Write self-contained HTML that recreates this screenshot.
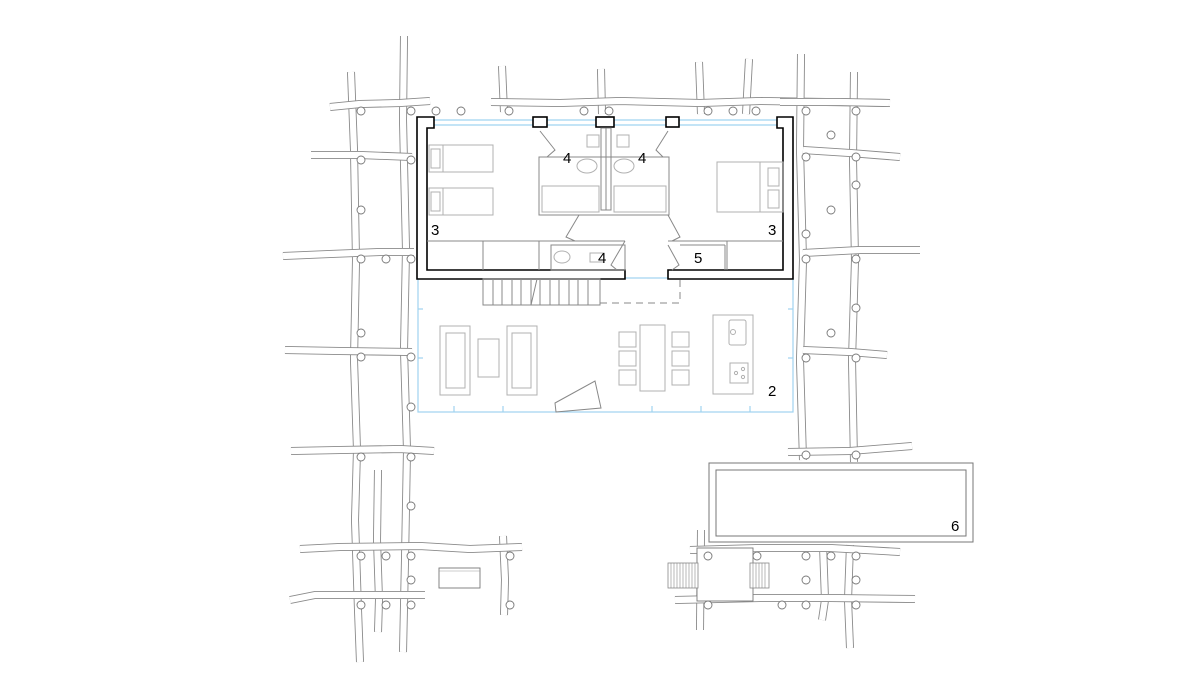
<!DOCTYPE html>
<html><head><meta charset="utf-8"><style>
html,body{margin:0;padding:0;background:#fff}
svg{display:block}
.o{fill:none;stroke:#8a8a8a;stroke-width:8;stroke-linejoin:round}
.i{fill:none;stroke:#fff;stroke-width:6.2;stroke-linejoin:round}
.c{fill:#fff;stroke:#777;stroke-width:0.9}
.g{fill:none;stroke:#b0b0b0;stroke-width:1}
.gd{fill:none;stroke:#888;stroke-width:1}
.b{fill:none;stroke:#9fd3f0;stroke-width:1.2}
.w{fill:#fff;stroke:#000;stroke-width:1.6}
text{font-family:"Liberation Sans",sans-serif;font-size:15px;fill:#000}
</style></head><body>
<svg width="1200" height="680" viewBox="0 0 1200 680" xmlns="http://www.w3.org/2000/svg">
<polyline class="o" points="351,72 354,150 356,260 354,360 357,450 355,520 358,610 360,662"/><polyline class="i" points="351,72 354,150 356,260 354,360 357,450 355,520 358,610 360,662"/>
<polyline class="o" points="404,36 403,120 406,250 404,350 407,450 405,560 403,652"/><polyline class="i" points="404,36 403,120 406,250 404,350 407,450 405,560 403,652"/>
<polyline class="o" points="378,470 377,540 379,600 378,632"/><polyline class="i" points="378,470 377,540 379,600 378,632"/>
<polyline class="o" points="503,536 505,580 504,615"/><polyline class="i" points="503,536 505,580 504,615"/>
<polyline class="o" points="330,107 360,104 400,103 430,101"/><polyline class="i" points="330,107 360,104 400,103 430,101"/>
<polyline class="o" points="311,155 360,155 412,157"/><polyline class="i" points="311,155 360,155 412,157"/>
<polyline class="o" points="283,256 330,254 380,252 414,252"/><polyline class="i" points="283,256 330,254 380,252 414,252"/>
<polyline class="o" points="285,350 340,351 412,352"/><polyline class="i" points="285,350 340,351 412,352"/>
<polyline class="o" points="291,451 340,450 400,449 434,451"/><polyline class="i" points="291,451 340,450 400,449 434,451"/>
<polyline class="o" points="300,549 340,547 420,546 470,549 522,547"/><polyline class="i" points="300,549 340,547 420,546 470,549 522,547"/>
<polyline class="o" points="290,600 315,595 380,595 425,595"/><polyline class="i" points="290,600 315,595 380,595 425,595"/>
<polyline class="o" points="502,66 504,112"/><polyline class="i" points="502,66 504,112"/>
<polyline class="o" points="601,69 602,114"/><polyline class="i" points="601,69 602,114"/>
<polyline class="o" points="699,62 701,114"/><polyline class="i" points="699,62 701,114"/>
<polyline class="o" points="749,59 746,114"/><polyline class="i" points="749,59 746,114"/>
<polyline class="o" points="491,102 560,103 620,101 700,103 760,101 890,103"/><polyline class="i" points="491,102 560,103 620,101 700,103 760,101 890,103"/>
<polyline class="o" points="801,54 800,150 803,260 800,360 803,460"/><polyline class="i" points="801,54 800,150 803,260 800,360 803,460"/>
<polyline class="o" points="854,72 853,160 855,260 852,360 854,462"/><polyline class="i" points="854,72 853,160 855,260 852,360 854,462"/>
<polyline class="o" points="780,102 840,102 889,103"/><polyline class="i" points="780,102 840,102 889,103"/>
<polyline class="o" points="803,150 850,153 900,157"/><polyline class="i" points="803,150 850,153 900,157"/>
<polyline class="o" points="803,253 860,250 920,250"/><polyline class="i" points="803,253 860,250 920,250"/>
<polyline class="o" points="803,350 850,352 887,355"/><polyline class="i" points="803,350 850,352 887,355"/>
<polyline class="o" points="788,452 850,451 912,446"/><polyline class="i" points="788,452 850,451 912,446"/>
<polyline class="o" points="823,545 825,600 822,620"/><polyline class="i" points="823,545 825,600 822,620"/>
<polyline class="o" points="850,545 848,600 850,648"/><polyline class="i" points="850,545 848,600 850,648"/>
<polyline class="o" points="701,530 700,630"/><polyline class="i" points="701,530 700,630"/>
<polyline class="o" points="690,550 760,548 830,548 900,552"/><polyline class="i" points="690,550 760,548 830,548 900,552"/>
<polyline class="o" points="675,600 760,598 830,598 915,599"/><polyline class="i" points="675,600 760,598 830,598 915,599"/>
<rect x="697" y="548" width="56" height="53" fill="#fff" stroke="#777" stroke-width="0.9"/>
<g stroke="#888" stroke-width="0.8" fill="#fff">
<rect x="668" y="563" width="30" height="25"/><rect x="750" y="563" width="19" height="25"/>
</g>
<g stroke="#888" stroke-width="0.6">
<line x1="671" y1="563" x2="671" y2="588"/><line x1="674" y1="563" x2="674" y2="588"/><line x1="677" y1="563" x2="677" y2="588"/><line x1="680" y1="563" x2="680" y2="588"/><line x1="683" y1="563" x2="683" y2="588"/><line x1="686" y1="563" x2="686" y2="588"/><line x1="689" y1="563" x2="689" y2="588"/><line x1="692" y1="563" x2="692" y2="588"/><line x1="695" y1="563" x2="695" y2="588"/>
<line x1="753" y1="563" x2="753" y2="588"/><line x1="756" y1="563" x2="756" y2="588"/><line x1="759" y1="563" x2="759" y2="588"/><line x1="762" y1="563" x2="762" y2="588"/><line x1="765" y1="563" x2="765" y2="588"/>
</g>
<rect x="709" y="463" width="264" height="79" fill="#fff" stroke="#777" stroke-width="1"/>
<rect x="716" y="470" width="250" height="66" fill="none" stroke="#777" stroke-width="1"/>
<text x="951" y="531">6</text>
<rect x="439" y="568" width="41" height="20" fill="#fff" stroke="#777" stroke-width="0.9"/>
<line x1="439" y1="571" x2="480" y2="571" stroke="#999" stroke-width="0.6"/>
<g class="c">
<circle cx="361" cy="111" r="4"/><circle cx="411" cy="111" r="4"/><circle cx="436" cy="111" r="4"/><circle cx="461" cy="111" r="4"/>
<circle cx="361" cy="160" r="4"/><circle cx="411" cy="160" r="4"/><circle cx="361" cy="210" r="4"/>
<circle cx="361" cy="259" r="4"/><circle cx="386" cy="259" r="4"/><circle cx="411" cy="259" r="4"/>
<circle cx="361" cy="333" r="4"/><circle cx="361" cy="357" r="4"/><circle cx="411" cy="357" r="4"/>
<circle cx="411" cy="407" r="4"/><circle cx="361" cy="457" r="4"/><circle cx="411" cy="457" r="4"/>
<circle cx="411" cy="506" r="4"/><circle cx="361" cy="556" r="4"/><circle cx="386" cy="556" r="4"/><circle cx="411" cy="556" r="4"/><circle cx="510" cy="556" r="4"/>
<circle cx="411" cy="580" r="4"/><circle cx="361" cy="605" r="4"/><circle cx="386" cy="605" r="4"/><circle cx="411" cy="605" r="4"/><circle cx="510" cy="605" r="4"/>
<circle cx="509" cy="111" r="4"/><circle cx="584" cy="111" r="4"/><circle cx="609" cy="111" r="4"/><circle cx="708" cy="111" r="4"/><circle cx="733" cy="111" r="4"/><circle cx="756" cy="111" r="4"/>
<circle cx="806" cy="111" r="4"/><circle cx="856" cy="111" r="4"/><circle cx="831" cy="135" r="4"/><circle cx="806" cy="157" r="4"/><circle cx="856" cy="157" r="4"/><circle cx="856" cy="185" r="4"/>
<circle cx="831" cy="210" r="4"/><circle cx="806" cy="234" r="4"/><circle cx="806" cy="259" r="4"/><circle cx="856" cy="259" r="4"/><circle cx="856" cy="308" r="4"/><circle cx="831" cy="333" r="4"/>
<circle cx="806" cy="358" r="4"/><circle cx="856" cy="358" r="4"/><circle cx="806" cy="455" r="4"/><circle cx="856" cy="455" r="4"/>
<circle cx="708" cy="556" r="4"/><circle cx="757" cy="556" r="4"/><circle cx="806" cy="556" r="4"/><circle cx="831" cy="556" r="4"/><circle cx="856" cy="556" r="4"/>
<circle cx="806" cy="580" r="4"/><circle cx="856" cy="580" r="4"/><circle cx="708" cy="605" r="4"/><circle cx="782" cy="605" r="4"/><circle cx="806" cy="605" r="4"/><circle cx="856" cy="605" r="4"/>
</g>
<rect x="417" y="117" width="376" height="295" fill="#fff"/>
<rect x="418" y="278" width="375" height="134" class="b"/>
<line x1="434" y1="120" x2="777" y2="120" class="b"/><line x1="434" y1="125" x2="777" y2="125" class="b"/>
<g stroke="#9fd3f0" stroke-width="1.2">
<line x1="418" y1="309" x2="423" y2="309"/><line x1="418" y1="358" x2="423" y2="358"/>
<line x1="788" y1="309" x2="793" y2="309"/><line x1="788" y1="358" x2="793" y2="358"/>
<line x1="454" y1="406" x2="454" y2="412"/><line x1="503" y1="406" x2="503" y2="412"/><line x1="652" y1="406" x2="652" y2="412"/><line x1="701" y1="406" x2="701" y2="412"/><line x1="750" y1="406" x2="750" y2="412"/>
</g>
<path class="w" d="M417,117 H434 V128 H427 V270 H625 V279 H417 Z"/>
<path class="w" d="M793,117 H777 V128 H783 V270 H668 V279 H793 Z"/>
<rect class="w" x="533" y="117" width="14" height="10"/><rect class="w" x="596" y="117" width="18" height="10"/><rect class="w" x="666" y="117" width="13" height="10"/>
<g class="g">
<rect x="429" y="145" width="64" height="27"/><line x1="443" y1="145" x2="443" y2="172"/><rect x="431" y="149" width="9" height="19"/>
<rect x="429" y="188" width="64" height="27"/><line x1="443" y1="188" x2="443" y2="215"/><rect x="431" y="192" width="9" height="19"/>
<rect x="717" y="162" width="66" height="50"/><line x1="760" y1="162" x2="760" y2="212"/><rect x="768" y="168" width="11" height="18"/><rect x="768" y="190" width="11" height="18"/>
<rect x="542" y="186" width="57" height="26"/><rect x="614" y="186" width="52" height="26"/>
<rect x="587" y="135" width="12" height="12"/><rect x="617" y="135" width="12" height="12"/>
<ellipse cx="587" cy="166" rx="10" ry="7"/><ellipse cx="624" cy="166" rx="10" ry="7"/>
<rect x="590" y="253" width="14" height="9"/><ellipse cx="562" cy="257" rx="8" ry="6"/>
<rect x="440" y="326" width="30" height="69"/><rect x="446" y="333" width="19" height="55"/>
<rect x="478" y="339" width="21" height="38"/>
<rect x="507" y="326" width="30" height="69"/><rect x="512" y="333" width="19" height="55"/>
<rect x="640" y="325" width="25" height="66"/>
<rect x="619" y="332" width="17" height="15"/><rect x="619" y="351" width="17" height="15"/><rect x="619" y="370" width="17" height="15"/>
<rect x="672" y="332" width="17" height="15"/><rect x="672" y="351" width="17" height="15"/><rect x="672" y="370" width="17" height="15"/>
<rect x="713" y="315" width="40" height="79"/><rect x="729" y="320" width="17" height="25" rx="2"/><circle cx="733" cy="332" r="2.5"/>
<rect x="730" y="363" width="18" height="20"/><circle cx="736" cy="373" r="1.6"/><circle cx="743" cy="369" r="1.6"/><circle cx="743" cy="377" r="1.6"/>
</g>
<g class="gd">
<rect x="539" y="157" width="130" height="58"/>
<rect x="601" y="128" width="10" height="82"/><line x1="606" y1="128" x2="606" y2="210"/>
<line x1="427" y1="241" x2="625" y2="241"/><line x1="483" y1="241" x2="483" y2="270"/><line x1="539" y1="241" x2="539" y2="270"/>
<rect x="551" y="245" width="74" height="25"/>
<line x1="668" y1="241" x2="783" y2="241"/><line x1="727" y1="241" x2="727" y2="270"/><line x1="725" y1="245" x2="725" y2="270"/><line x1="680" y1="245" x2="725" y2="245"/>
<path d="M540,131 L555,150 L547,157"/><path d="M668,131 L656,150 L663,157"/>
<path d="M579,215 L566,237 L575,241"/><path d="M668,215 L680,237 L672,241"/>
<path d="M625,241 L611,265 L617,270"/><path d="M668,245 L679,265 L672,270"/>
<rect x="483" y="279" width="117" height="26"/>
<path d="M493,279 v26 M502,279 v26 M512,279 v26 M521,279 v26 M531,279 v26 M540,279 v26 M550,279 v26 M559,279 v26 M569,279 v26 M578,279 v26 M588,279 v26 M537,279 L531,305"/>
<path d="M600,303 H680 V279" stroke-dasharray="7,5"/>
<path d="M555,403 L595,381 L601,408 L556,412 Z"/>
</g>
<text x="563" y="163">4</text><text x="638" y="163">4</text>
<text x="431" y="235">3</text><text x="768" y="235">3</text>
<text x="598" y="263">4</text><text x="694" y="263">5</text>
<text x="768" y="396">2</text>
</svg>
</body></html>
